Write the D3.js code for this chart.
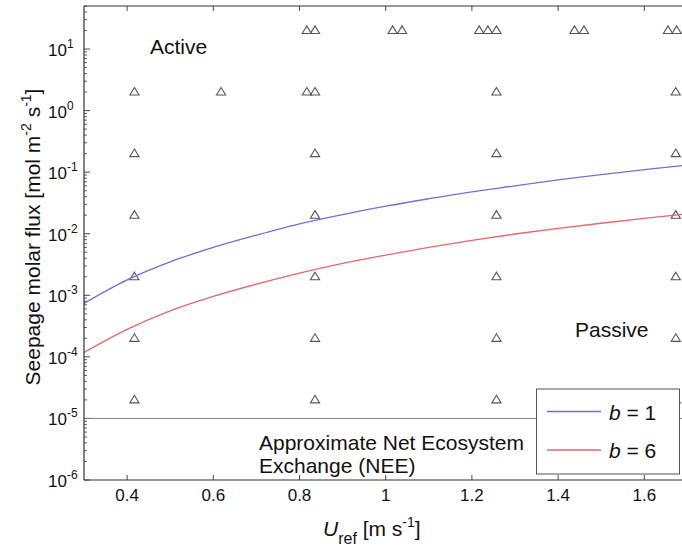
<!DOCTYPE html>
<html><head><meta charset="utf-8">
<script src="https://cdn.jsdelivr.net/npm/d3@7"></script>
<style>body{margin:0;background:#fff;} text{font-family:"Liberation Sans",Arial,sans-serif;fill:#111;}</style>
</head><body><svg id="c" width="682" height="548"></svg>
<script>
// ---- data ----
const uGrid  = [0.3, 0.4, 0.5, 0.6, 0.7, 0.8, 0.9, 1.0, 1.1, 1.2, 1.3, 1.4, 1.5, 1.6, 1.7];
const fluxB1 = [7.4e-4, 1.78e-3, 3.5e-3, 6.0e-3, 9.5e-3, 1.45e-2, 2.05e-2, 2.8e-2, 3.7e-2, 4.8e-2, 6.0e-2, 7.5e-2, 9.1e-2, 0.11, 0.13];
const fluxB6 = [1.18e-4, 2.8e-4, 5.6e-4, 9.6e-4, 1.52e-3, 2.3e-3, 3.3e-3, 4.5e-3, 6.0e-3, 7.8e-3, 9.9e-3, 1.22e-2, 1.48e-2, 1.78e-2, 2.1e-2];
const seriesNames = ["1", "6"];
const seriesColors = ["#7070d0", "#e06868"];
const triU    = [0.817,0.836,1.016,1.038,1.217,1.237,1.257,1.438,1.460,1.655,1.675,
                 0.417,0.618,0.817,0.836,1.257,1.673,
                 0.417,0.836,1.257,1.673,
                 0.417,0.836,1.257,1.673,
                 0.417,0.836,1.257,1.673,
                 0.417,0.836,1.257,1.673,
                 0.417,0.836,1.257,1.673];
const triFlux = [20,20,20,20,20,20,20,20,20,20,20,
                 2,2,2,2,2,2,
                 0.2,0.2,0.2,0.2,
                 0.02,0.02,0.02,0.02,
                 2e-3,2e-3,2e-3,2e-3,
                 2e-4,2e-4,2e-4,2e-4,
                 2e-5,2e-5,2e-5,2e-5];
const xTicks = [0.4, 0.6, 0.8, 1.0, 1.2, 1.4, 1.6];
const xTickLabels = ["0.4","0.6","0.8","1","1.2","1.4","1.6"];
const yTickExps = [1, 0, -1, -2, -3, -4, -5, -6];
const neeLevel = 1e-5;

// ---- layout ----
const svg = d3.select("#c");
const L = 84, T = 6, B = 480, R = 84 + 431 * 1.4;
const x = d3.scaleLinear().domain([0.3, 1.7]).range([L, R]);
const y = d3.scaleLog().domain([1e-6, 50]).range([B, T]);
const axisCol = "#333";

svg.append("defs").append("clipPath").attr("id","clip")
  .append("rect").attr("x", L).attr("y", T).attr("width", R - L).attr("height", B - T);

// ticks (inward)
const g = svg.append("g");
const minor = [];
for (let e = -6; e <= 1; e++) for (let m = 2; m <= 9; m++) { const v = m * Math.pow(10, e); if (v <= 50) minor.push(v); }
g.selectAll(".ymin").data(minor).join("line")
  .attr("x1", L).attr("x2", L + 3).attr("y1", d => y(d)).attr("y2", d => y(d))
  .attr("stroke", axisCol).attr("stroke-width", 0.8);
g.selectAll(".ymaj").data(yTickExps).join("line")
  .attr("x1", L).attr("x2", L + 6).attr("y1", d => y(Math.pow(10, d))).attr("y2", d => y(Math.pow(10, d)))
  .attr("stroke", axisCol).attr("stroke-width", 0.9);
g.selectAll(".xb").data(xTicks).join("line")
  .attr("x1", d => x(d)).attr("x2", d => x(d)).attr("y1", B).attr("y2", B - 5)
  .attr("stroke", axisCol).attr("stroke-width", 0.9);
g.selectAll(".xt").data(xTicks).join("line")
  .attr("x1", d => x(d)).attr("x2", d => x(d)).attr("y1", T).attr("y2", T + 5)
  .attr("stroke", axisCol).attr("stroke-width", 0.9);

// NEE line
svg.append("line").attr("x1", L).attr("x2", R).attr("y1", y(neeLevel)).attr("y2", y(neeLevel))
  .attr("stroke", "#808080").attr("stroke-width", 1);

// triangles
const tri = "M0,-4.6L4.6,3L-4.6,3Z";
svg.append("g").attr("clip-path","url(#clip)").selectAll("path").data(triU.map((u, i) => [u, triFlux[i]])).join("path")
  .attr("d", tri).attr("transform", d => `translate(${x(d[0])},${y(d[1])})`)
  .attr("fill", "none").attr("stroke", "#555").attr("stroke-width", 1.1);

// curves
const line = d3.line().x(d => x(d[0])).y(d => y(d[1])).curve(d3.curveMonotoneX);
[fluxB1, fluxB6].forEach((s, i) => {
  svg.append("path").attr("clip-path","url(#clip)")
    .attr("d", line(uGrid.map((u, j) => [u, s[j]])))
    .attr("fill", "none").attr("stroke", seriesColors[i]).attr("stroke-width", 1.3);
});

// axes frame
svg.append("line").attr("x1", L).attr("x2", R).attr("y1", T).attr("y2", T).attr("stroke", axisCol).attr("stroke-width", 1.2);
svg.append("line").attr("x1", L).attr("x2", R).attr("y1", B).attr("y2", B).attr("stroke", axisCol).attr("stroke-width", 1.2);
svg.append("line").attr("x1", L).attr("x2", L).attr("y1", T).attr("y2", B).attr("stroke", axisCol).attr("stroke-width", 1.2);

// tick labels
svg.selectAll(".xl").data(xTicks).join("text")
  .attr("x", d => x(d)).attr("y", B + 21).attr("text-anchor", "middle")
  .attr("font-size", 17).text((d, i) => xTickLabels[i]);
yTickExps.forEach(e => {
  const t = svg.append("text").attr("x", 48).attr("y", y(Math.pow(10, e)) + 7).attr("font-size", 17);
  t.append("tspan").text("10");
  t.append("tspan").attr("dy", -8).attr("font-size", 12).text(e < 0 ? "-" + (-e) : String(e));
});

// annotations
svg.append("text").attr("x", 150).attr("y", 54).attr("font-size", 21).text("Active");
svg.append("text").attr("x", 575).attr("y", 337).attr("font-size", 21).text("Passive");
svg.append("text").attr("x", 259).attr("y", 450).attr("font-size", 21).text("Approximate Net Ecosystem");
svg.append("text").attr("x", 259).attr("y", 473).attr("font-size", 21).text("Exchange (NEE)");

// legend
const lg = svg.append("g");
lg.append("rect").attr("x", 536.5).attr("y", 389).attr("width", 143).attr("height", 85)
  .attr("fill", "#fff").attr("stroke", "#555").attr("stroke-width", 1);
seriesNames.forEach((n, i) => {
  const yy = 411.5 + i * 38.5;
  lg.append("line").attr("x1", 547).attr("x2", 601).attr("y1", yy).attr("y2", yy)
    .attr("stroke", seriesColors[i]).attr("stroke-width", 1.3);
  const t = lg.append("text").attr("x", 609).attr("y", yy + 8).attr("font-size", 21);
  t.append("tspan").attr("font-style", "italic").text("b");
  t.append("tspan").text(" = " + n);
});

// axis labels
const xl = svg.append("text").attr("x", 323).attr("y", 536).attr("font-size", 21);
xl.append("tspan").attr("font-style", "italic").text("U");
xl.append("tspan").attr("dy", 8).attr("font-size", 16).text("ref");
xl.append("tspan").attr("dy", -8).text(" [m s");
xl.append("tspan").attr("dy", -9).attr("font-size", 14).text("-1");
xl.append("tspan").attr("dy", 9).text("]");

const yl = svg.append("text").attr("transform", "translate(40,237) rotate(-90)")
  .attr("text-anchor", "middle").attr("font-size", 21);
yl.append("tspan").text("Seepage molar flux [mol m");
yl.append("tspan").attr("dy", -9).attr("font-size", 14).text("-2");
yl.append("tspan").attr("dy", 9).text(" s");
yl.append("tspan").attr("dy", -9).attr("font-size", 14).text("-1");
yl.append("tspan").attr("dy", 9).text("]");
</script></body></html>
